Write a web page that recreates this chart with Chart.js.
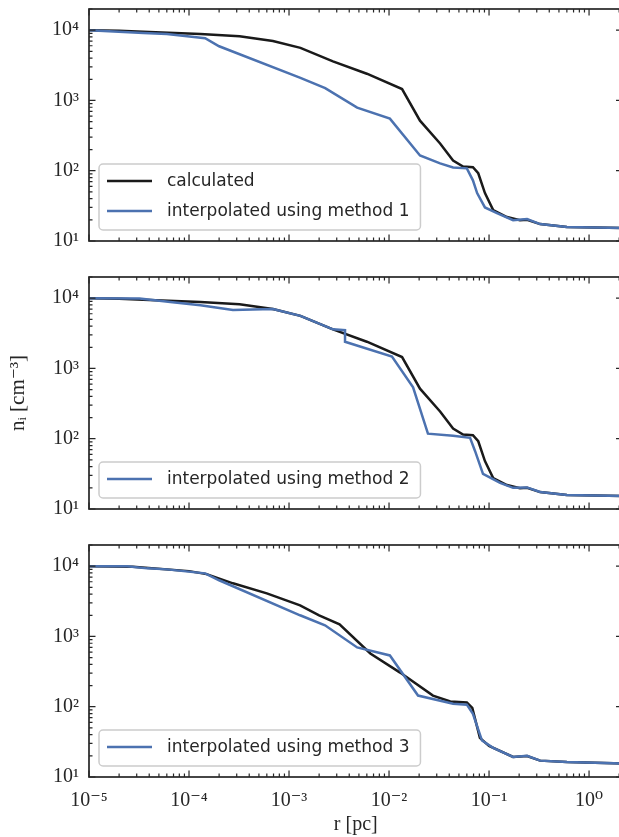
<!DOCTYPE html>
<html><head><meta charset="utf-8">
<script src="https://cdn.jsdelivr.net/npm/chart.js@4/dist/chart.umd.min.js"></script>
<style>
html,body{margin:0;padding:0;background:#fff;overflow:hidden;width:619px;height:837px;}
.p{position:absolute;left:0;}
canvas{display:block;}
</style></head>
<body>
<div class="p" style="top:0px"><canvas id="c1" width="625" height="262"></canvas></div>
<div class="p" style="top:268px"><canvas id="c2" width="625" height="262"></canvas></div>
<div class="p" style="top:536px"><canvas id="c3" width="625" height="301"></canvas></div>
<script>
// ---- data (r in pc, n_i in cm^-3) ----
const rCalc = [1e-5, 2.0e-5, 4.0e-5, 1.3e-4, 3.2e-4, 6.9e-4, 1.3e-3, 2.75e-3, 6.0e-3, 0.0135, 0.0204, 0.0324, 0.0437, 0.055, 0.069, 0.078, 0.091, 0.11, 0.151, 0.204, 0.24, 0.324, 0.60, 2.2];
const nCalc = [1.0e4, 9.8e3, 9.4e3, 8.8e3, 8.2e3, 7.0e3, 5.6e3, 3.6e3, 2.4e3, 1.45e3, 515, 244, 140, 115, 112, 92, 48, 27.5, 21.9, 19.8, 20, 17.4, 15.8, 15.3];

const rMethod1 = [1e-5, 3.5e-5, 6.0e-5, 1.45e-4, 2.0e-4, 1.3e-3, 2.3e-3, 4.8e-3, 0.0102, 0.0204, 0.0324, 0.0437, 0.060, 0.069, 0.076, 0.091, 0.12, 0.174, 0.24, 0.324, 0.60, 2.2];
const nMethod1 = [1.0e4, 9.1e3, 8.8e3, 7.7e3, 5.9e3, 2.1e3, 1.5e3, 790, 550, 165, 127, 111, 108, 73, 48, 30, 25, 19.8, 20.5, 17.4, 15.8, 15.3];

const rMethod2 = [1e-5, 3.2e-5, 6.5e-5, 1.3e-4, 2.75e-4, 6.9e-4, 1.3e-3, 2.75e-3, 3.63e-3, 3.63e-3, 0.0107, 0.0174, 0.0245, 0.0437, 0.0646, 0.0724, 0.087, 0.129, 0.174, 0.24, 0.324, 0.60, 2.2];
const nMethod2 = [1e4, 9.9e3, 8.8e3, 7.9e3, 6.8e3, 7.0e3, 5.6e3, 3.6e3, 3.5e3, 2.4e3, 1.48e3, 537, 118, 110, 103, 67, 31.6, 23.5, 20, 20.3, 17.5, 15.8, 15.3];

const rCalc3 = [1e-5, 2.75e-5, 1.0e-4, 1.5e-4, 2.75e-4, 6.0e-4, 1.29e-3, 2.0e-3, 3.2e-3, 6.5e-3, 0.0129, 0.0275, 0.041, 0.060, 0.068, 0.081, 0.10, 0.174, 0.24, 0.324, 0.60, 2.2];
const nCalc3 = [1e4, 9.8e3, 8.5e3, 7.7e3, 5.7e3, 4.1e3, 2.77e3, 2.0e3, 1.49e3, 573, 306, 144, 119, 115, 96, 36, 27.7, 19.3, 19.9, 17.1, 16.3, 15.5];

const rMethod3 = [1e-5, 2.4e-5, 3.8e-5, 6.0e-5, 1.45e-4, 2.0e-4, 1.29e-3, 2.29e-3, 4.8e-3, 0.0102, 0.0195, 0.0437, 0.060, 0.069, 0.085, 0.11, 0.174, 0.24, 0.324, 0.60, 2.2];
const nMethod3 = [1e4, 1e4, 9.3e3, 9.0e3, 7.9e3, 6.3e3, 2.0e3, 1.44e3, 697, 536, 144, 110, 107, 79, 33, 26, 19.3, 20, 17.1, 16.3, 15.5];

// ---- axes ----
const xMajorTicks = [1e-5, 1e-4, 1e-3, 1e-2, 1e-1, 1e0];
const xTickLabels = ['10\u207B\u2075', '10\u207B\u2074', '10\u207B\u00B3', '10\u207B\u00B2', '10\u207B\u00B9', '10\u2070'];
const yMajorTicks = [1e1, 1e2, 1e3, 1e4];
const yTickLabels = ['10\u00B9', '10\u00B2', '10\u00B3', '10\u2074'];
const xMin = 1e-5, xMax = 2.16, yMin = 10, yMax = 2e4;

const COL_CALC = '#1a1a1a', COL_INT = '#4c72b0', INK = '#262626';
const SERIF = '"Liberation Serif", "DejaVu Serif", serif';
const SANS = '"DejaVu Sans", sans-serif';

function logTicks(lo, hi) {
  const out = [];
  for (let e = Math.floor(Math.log10(lo)); e <= Math.ceil(Math.log10(hi)); e++) {
    for (let m = 1; m <= 9; m++) {
      const v = m * Math.pow(10, e);
      if (v >= lo * 0.9999 && v <= hi * 1.0001) out.push(v);
    }
  }
  return out;
}
const isDecade = v => Math.abs(Math.log10(v) - Math.round(Math.log10(v))) < 1e-6;
function labelFor(v, majors, labels) {
  const i = majors.findIndex(m => Math.abs(Math.log10(m) - Math.log10(v)) < 1e-6);
  return i >= 0 ? labels[i] : '';
}
const pts = (r, n) => r.map((v, i) => ({x: v, y: n[i]}));

const decor = {
  id: 'decor',
  afterDraw(chart) {
    const {ctx, chartArea: a, scales: {x, y}} = chart;
    ctx.save();
    ctx.strokeStyle = INK;
    ctx.lineWidth = 1.2;
    ctx.beginPath();
    x.ticks.forEach(t => {
      const px = x.getPixelForValue(t.value);
      if (px < a.left - 0.5 || px > a.right + 0.5) return;
      const len = isDecade(t.value) ? 6.5 : 3.5;
      ctx.moveTo(px, a.bottom); ctx.lineTo(px, a.bottom - len);
      ctx.moveTo(px, a.top); ctx.lineTo(px, a.top + len);
    });
    y.ticks.forEach(t => {
      const py = y.getPixelForValue(t.value);
      if (py < a.top - 0.5 || py > a.bottom + 0.5) return;
      const len = isDecade(t.value) ? 6.5 : 3.5;
      ctx.moveTo(a.left, py); ctx.lineTo(a.left + len, py);
      ctx.moveTo(a.right, py); ctx.lineTo(a.right - len, py);
    });
    ctx.stroke();
    ctx.lineWidth = 1.7;
    ctx.strokeRect(a.left, a.top, a.right - a.left, a.bottom - a.top);

    // legend box (lower-left, inside the axes)
    const items = chart.data.datasets.filter(d => d.inLegend);
    if (items.length) {
      ctx.font = '17px ' + SANS;
      const rowH = 30;
      const tw = Math.max(...items.map(d => ctx.measureText(d.label).width));
      const w = 8 + 45 + 15 + tw + 11;
      const h = rowH * items.length + 6;
      const x0 = a.left + 10, y0 = a.bottom - 11 - h;
      ctx.beginPath();
      ctx.roundRect(x0, y0, w, h, 4);
      ctx.fillStyle = 'rgba(255,255,255,0.85)';
      ctx.fill();
      ctx.strokeStyle = '#cccccc';
      ctx.lineWidth = 1.5;
      ctx.stroke();
      items.forEach((d, i) => {
        const cy = y0 + 2 + rowH * i + rowH / 2;
        ctx.beginPath();
        ctx.strokeStyle = d.borderColor;
        ctx.lineWidth = 2.6;
        ctx.moveTo(x0 + 8, cy); ctx.lineTo(x0 + 53, cy);
        ctx.stroke();
        ctx.fillStyle = INK;
        ctx.textBaseline = 'middle';
        ctx.textAlign = 'left';
        ctx.fillText(d.label, x0 + 68, cy + 1);
      });
    }
    ctx.restore();
  }
};

function makePanel(id, calcR, calcN, intR, intN, intLabel, calcInLegend, opts) {
  const xAll = logTicks(xMin, xMax);
  const yAll = logTicks(yMin, yMax);
  return new Chart(document.getElementById(id), {
    type: 'line',
    data: {
      datasets: [
        {label: 'calculated', data: pts(calcR, calcN), borderColor: COL_CALC, borderWidth: 2.5,
         pointRadius: 0, tension: 0, order: 2, inLegend: calcInLegend},
        {label: intLabel, data: pts(intR, intN), borderColor: COL_INT, borderWidth: 2.5,
         pointRadius: 0, tension: 0, order: 1, inLegend: true}
      ]
    },
    options: {
      responsive: false, animation: false, devicePixelRatio: 1,
      layout: {padding: {top: 9, bottom: opts.bottomPad, left: 0, right: 2.5}},
      plugins: {legend: {display: false}, tooltip: {enabled: false}},
      scales: {
        x: {
          type: 'logarithmic', min: xMin, max: xMax,
          afterBuildTicks: s => { s.ticks = xAll.map(v => ({value: v})); },
          afterFit: s => { s.height = opts.xHeight; s.paddingLeft = 0; s.paddingRight = 0; },
          grid: {display: false, drawTicks: false},
          border: {display: false},
          ticks: {display: opts.showX, autoSkip: false, maxRotation: 0, minRotation: 0, padding: 12,
                  color: INK, font: {family: SERIF, size: 20},
                  callback: v => labelFor(v, xMajorTicks, xTickLabels)},
          title: {display: opts.showX, text: 'r [pc]', color: INK, font: {family: SERIF, size: 20},
                  padding: {top: 0, bottom: 0}}
        },
        y: {
          type: 'logarithmic', min: yMin, max: yMax,
          afterBuildTicks: s => { s.ticks = yAll.map(v => ({value: v})); },
          afterFit: s => { s.width = 89; s.paddingTop = 0; s.paddingBottom = 0; },
          grid: {display: false, drawTicks: false},
          border: {display: false},
          ticks: {autoSkip: false, padding: 10, color: INK, font: {family: SERIF, size: 20},
                  callback: v => labelFor(v, yMajorTicks, yTickLabels)},
          title: {display: opts.showYTitle, text: 'n\u1D62 [cm\u207B\u00B3]', color: INK,
                  font: {family: SERIF, size: 21}, padding: {top: 6, bottom: 0}}
        }
      }
    },
    plugins: [decor]
  });
}

makePanel('c1', rCalc, nCalc, rMethod1, nMethod1, 'interpolated using method 1', true,
  {bottomPad: 21, xHeight: 0, showX: false, showYTitle: false});
makePanel('c2', rCalc, nCalc, rMethod2, nMethod2, 'interpolated using method 2', false,
  {bottomPad: 21, xHeight: 0, showX: false, showYTitle: true});
makePanel('c3', rCalc3, nCalc3, rMethod3, nMethod3, 'interpolated using method 3', false,
  {bottomPad: 0, xHeight: 60, showX: true, showYTitle: false});
</script>
</body></html>
